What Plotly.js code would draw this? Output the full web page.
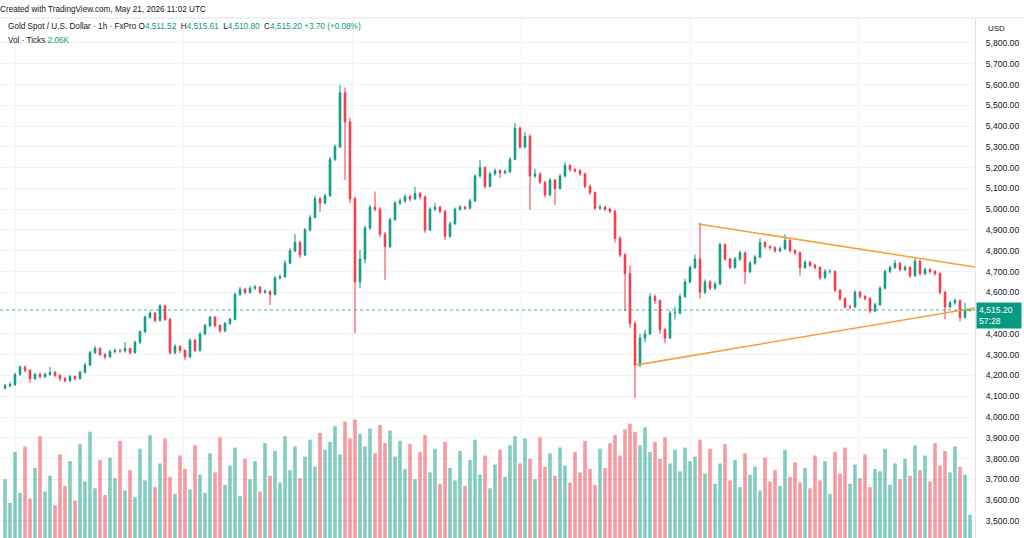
<!DOCTYPE html>
<html>
<head>
<meta charset="utf-8">
<script src="https://cdn.plot.ly/plotly-3.0.1.min.js"></script>
<style>
  html, body { margin: 0; padding: 0; background: #ffffff; }
  #chart { width: 1024px; height: 538px; }
</style>
</head>
<body>
<div id="chart"></div>
<script>
// ---- Data (Gold Spot / USD, 1h, FxPro) ----
const opens = [
4140,4150,4155,4205,4240,4225,4185,4205,4195,4205,4215,4200,4185,4175,4195,4185,4215,4250,4310,4330,
4300,4290,4315,4320,4318,4330,4310,4360,4410,4480,4500,4465,4535,4470,4310,4340,4320,4290,4370,4320,
4400,4440,4480,4440,4415,4450,4470,4590,4615,4600,4620,4625,4600,4605,4590,4670,4675,4740,4800,4840,
4780,4900,4960,5050,5030,5065,5240,5300,5560,5420,5050,4650,4760,4910,5010,5000,4880,4820,4950,5030,
5040,5060,5050,5075,5060,4900,5000,5010,4990,4870,4930,5000,5010,5005,5040,5160,5200,5110,5170,5185,
5175,5180,5240,5390,5300,5350,5160,5170,5130,5070,5140,5100,5160,5210,5190,5185,5170,5110,5080,5005,
5010,5000,4990,4860,4780,4690,4450,4250,4380,4400,4580,4560,4420,4380,4500,4500,4580,4650,4720,4760,
4600,4650,4620,4640,4830,4760,4720,4760,4790,4700,4740,4770,4840,4820,4815,4800,4810,4850,4800,4790,
4720,4745,4730,4720,4670,4700,4700,4610,4570,4530,4530,4600,4580,4570,4510,4540,4620,4700,4720,4740,
4710,4720,4680,4750,4690,4710,4700,4690,4600,4530,4550,4560,4480,4511.52
];
const highs = [
4160,4168,4212,4250,4248,4230,4212,4215,4214,4241,4222,4206,4192,4203,4200,4224,4262,4318,4342,4336,
4308,4324,4330,4328,4361,4335,4368,4418,4488,4510,4506,4542,4540,4478,4350,4346,4326,4378,4376,4408,
4450,4486,4485,4446,4458,4478,4598,4626,4622,4630,4636,4630,4614,4610,4678,4686,4756,4812,4880,4848,
4910,4972,5065,5058,5075,5252,5312,5598,5585,5440,5062,4805,4920,5020,5085,5010,4890,4960,5040,5052,
5070,5068,5107,5082,5066,5010,5030,5016,4996,4940,5008,5020,5016,5050,5168,5237,5206,5180,5196,5192,
5190,5250,5415,5398,5372,5360,5195,5178,5136,5150,5146,5170,5227,5216,5198,5192,5176,5118,5086,5022,
5018,5008,4996,4870,4790,4730,4460,4400,4420,4595,4590,4566,4430,4512,4530,4592,4665,4730,4782,4935,
4662,4660,4652,4840,4836,4766,4770,4800,4796,4750,4780,4860,4846,4828,4822,4820,4880,4856,4808,4796,
4755,4752,4738,4726,4712,4712,4706,4616,4576,4540,4610,4608,4588,4576,4550,4630,4710,4730,4756,4746,
4730,4726,4770,4756,4720,4716,4708,4696,4606,4560,4572,4566,4550,4515.61
];
const lows = [
4132,4142,4150,4198,4215,4165,4178,4186,4188,4198,4192,4172,4166,4168,4176,4180,4210,4245,4302,4292,
4278,4284,4306,4308,4310,4300,4305,4352,4405,4472,4455,4460,4462,4300,4302,4308,4275,4285,4312,4315,
4394,4432,4432,4405,4408,4442,4465,4582,4590,4594,4610,4592,4594,4539,4585,4662,4670,4735,4792,4765,
4775,4894,4955,4987,5022,5060,5232,5295,5140,5030,4404,4620,4740,4900,4990,4866,4660,4812,4942,5020,
5030,5038,5044,5048,4886,4895,4992,4980,4852,4862,4925,4992,4996,5000,5035,5152,5100,5105,5162,5150,
5168,5175,5235,5290,5292,4996,5150,5120,5055,5062,5020,5094,5152,5180,5176,5160,5100,5070,4995,4996,
4990,4980,4840,4770,4510,4430,4092,4240,4360,4395,4545,4400,4355,4375,4470,4494,4574,4644,4712,4570,
4592,4610,4612,4634,4750,4710,4714,4752,4640,4692,4732,4764,4810,4806,4790,4792,4804,4790,4780,4680,
4712,4722,4710,4660,4664,4690,4600,4560,4520,4516,4524,4570,4560,4500,4504,4534,4614,4692,4712,4700,
4702,4670,4674,4680,4682,4690,4680,4590,4470,4522,4540,4460,4474,4510.80
];
const closes = [
4150,4155,4205,4240,4225,4185,4205,4195,4205,4215,4200,4185,4175,4195,4185,4215,4250,4310,4330,4300,
4290,4315,4320,4318,4330,4310,4360,4410,4480,4500,4465,4535,4470,4310,4340,4320,4290,4370,4320,4400,
4440,4480,4440,4415,4450,4470,4590,4615,4600,4620,4625,4600,4605,4590,4670,4675,4740,4800,4840,4780,
4900,4960,5050,5030,5065,5240,5300,5560,5420,5050,4650,4760,4910,5010,5000,4880,4820,4950,5030,5040,
5060,5050,5075,5060,4900,5000,5010,4990,4870,4930,5000,5010,5005,5040,5160,5200,5110,5170,5185,5175,
5180,5240,5390,5300,5350,5160,5170,5130,5070,5140,5100,5160,5210,5190,5185,5170,5110,5080,5005,5010,
5000,4990,4860,4780,4690,4450,4250,4380,4400,4580,4560,4420,4380,4500,4500,4580,4650,4720,4760,4600,
4650,4620,4640,4830,4760,4720,4760,4790,4700,4740,4770,4840,4820,4815,4800,4810,4850,4800,4790,4720,
4745,4730,4720,4670,4700,4700,4610,4570,4530,4530,4600,4580,4570,4510,4540,4620,4700,4720,4740,4710,
4720,4680,4750,4690,4710,4700,4690,4600,4530,4550,4560,4480,4511.52,4515.20
];
// Volume (ticks, thousands)
const volumes = [
5.2,3.1,7.6,4.0,8.1,3.5,6.2,9.0,4.1,5.5,2.9,7.4,4.6,6.8,3.3,8.3,5.0,9.4,4.4,6.9,
3.8,7.1,5.3,8.6,4.2,6.0,3.6,7.9,5.1,9.1,4.5,6.6,8.8,5.4,3.9,7.3,6.1,4.3,8.2,5.6,
4.0,7.5,5.8,8.9,4.7,6.4,8.0,3.7,7.0,5.2,6.8,4.1,8.4,5.5,7.7,4.9,9.0,6.0,8.1,5.3,
7.2,8.7,6.3,9.3,7.8,8.5,9.9,7.4,10.3,8.8,10.5,9.2,8.1,9.7,7.5,10.0,8.4,9.5,7.2,8.6,
6.1,8.3,5.2,7.6,9.1,5.8,7.9,4.8,8.5,6.2,5.1,7.7,4.6,6.9,8.7,5.6,7.3,4.4,6.5,7.8,
5.4,8.2,9.0,6.6,8.8,7.0,5.2,8.9,6.3,7.5,5.5,8.0,6.4,4.9,7.6,5.8,8.6,6.1,4.7,7.9,
6.2,8.4,9.1,7.3,9.6,10.1,9.4,8.2,9.8,7.6,8.5,7.0,8.9,6.6,7.8,5.9,8.0,6.8,7.2,8.7,
5.7,7.9,4.8,6.6,8.3,5.1,6.9,4.5,7.5,5.6,6.3,4.2,7.1,5.0,6.0,4.6,7.8,5.4,6.7,4.9,
6.2,4.4,7.3,5.1,6.8,3.9,7.6,5.7,8.0,4.8,6.5,5.3,7.4,4.5,6.1,5.9,7.9,4.7,6.6,5.2,
7.0,5.5,8.2,6.0,7.3,5.0,8.4,6.4,7.7,5.8,8.1,6.3,5.6,2.06
];
// Price-scale labels shown on the right axis (4,500 is hidden behind the last-price tag)
const priceTicks = [5800,5700,5600,5500,5400,5300,5200,5100,5000,4900,4800,4700,4600,
                    4400,4300,4200,4100,4000,3900,3800,3700,3600,3500];
// Triangle trend lines (bar index, price)
const upperLineX = [138.6, 194];
const upperLineY = [4929, 4722];
const lowerLineX = [126.4, 194];
const lowerLineY = [4251, 4525];
const lastPrice = 4515.20;
const countdown = '57:28';
const headerText = 'Created with TradingView.com, May 21, 2026 11:02 UTC';
const symbolText = 'Gold Spot / U.S. Dollar \u00b7 1h \u00b7 FxPro';
const ohlcText = { O: '4,511.52', H: '4,515.61', L: '4,510.80', C: '4,515.20', chg: '+3.70 (+0.08%)' };
const volText = { label: 'Vol \u00b7 Ticks', value: '2.06K' };

// ---- Styling ----
const UP = '#089981', DOWN = '#F23645';
const idx = closes.map((_, i) => i);
const volColors = closes.map((c, i) => c >= opens[i] ? 'rgba(8,153,129,0.5)' : 'rgba(242,54,69,0.5)');
const FONT = 'Liberation Sans, Arial, sans-serif';
const TXT = '#131722';

const traces = [
  {
    type: 'bar', x: idx, y: volumes, yaxis: 'y2',
    marker: { color: volColors, line: { width: 0 } },
    width: 0.72, hoverinfo: 'skip'
  },
  {
    type: 'candlestick', x: idx, open: opens, high: highs, low: lows, close: closes,
    increasing: { line: { color: UP, width: 1 }, fillcolor: UP },
    decreasing: { line: { color: DOWN, width: 1 }, fillcolor: DOWN },
    whiskerwidth: 0, hoverinfo: 'skip'
  },
  {
    type: 'scatter', mode: 'lines', x: upperLineX, y: upperLineY,
    line: { color: '#F2A33A', width: 1.6 }, hoverinfo: 'skip'
  },
  {
    type: 'scatter', mode: 'lines', x: lowerLineX, y: lowerLineY,
    line: { color: '#F2A33A', width: 1.6 }, hoverinfo: 'skip'
  }
];

const teal = (s) => '<span style="color:' + UP + '">' + s + '</span>';
const sp = '\u00a0\u00a0';
const legendLine1 = symbolText + '\u00a0' + 'O' + teal(ohlcText.O) + sp + 'H' + teal(ohlcText.H) + sp +
  'L' + teal(ohlcText.L) + sp + 'C' + teal(ohlcText.C) + '\u00a0' + teal(ohlcText.chg);
const legendLine2 = volText.label + '\u00a0' + teal(volText.value);

const layout = {
  width: 1024, height: 538,
  margin: { l: 0, r: 49, t: 18, b: 0, pad: 0 },
  paper_bgcolor: '#ffffff', plot_bgcolor: '#ffffff',
  showlegend: false,
  boxgap: 0.55,
  xaxis: {
    range: [-1, 194], rangeslider: { visible: false },
    showticklabels: false, ticks: '', zeroline: false,
    showgrid: true, gridcolor: '#f0f2f6', gridwidth: 1,
    tick0: 2, dtick: 33.75, fixedrange: true
  },
  yaxis: {
    range: [3418, 5920], side: 'right',
    tickmode: 'array', tickvals: priceTicks, tickformat: ',.2f',
    showgrid: true, gridcolor: '#f0f2f6', gridwidth: 1,
    zeroline: false, showline: true, linecolor: '#e0e3eb', linewidth: 1,
    ticks: 'outside', ticklen: 8, tickcolor: 'rgba(0,0,0,0)',
    tickfont: { family: FONT, size: 8.6, color: TXT }, fixedrange: true
  },
  yaxis2: {
    overlaying: 'y', range: [0, 46], visible: false, fixedrange: true
  },
  shapes: [
    { type: 'line', xref: 'paper', yref: 'y', x0: 0, x1: 1, y0: lastPrice, y1: lastPrice,
      line: { color: 'rgba(8,153,129,0.75)', width: 1, dash: 'dot' } },
    { type: 'line', xref: 'paper', yref: 'paper', x0: 0, x1: 1.06, y0: 1, y1: 1,
      line: { color: '#e0e3eb', width: 1 } }
  ],
  annotations: [
    { xref: 'paper', yref: 'paper', x: -0.002, y: 1.0173, xanchor: 'left', yanchor: 'middle',
      text: headerText, showarrow: false, font: { family: FONT, size: 8.2, color: TXT } },
    { xref: 'paper', yref: 'paper', x: 0.006, y: 0.983, xanchor: 'left', yanchor: 'middle',
      text: legendLine1, showarrow: false, font: { family: FONT, size: 8.2, color: TXT } },
    { xref: 'paper', yref: 'paper', x: 0.006, y: 0.956, xanchor: 'left', yanchor: 'middle',
      text: legendLine2, showarrow: false, font: { family: FONT, size: 8.2, color: TXT } },
    { xref: 'paper', yref: 'paper', x: 1.011, y: 0.979, xanchor: 'left', yanchor: 'middle',
      text: 'USD', showarrow: false, font: { family: FONT, size: 8, color: TXT } },
    { xref: 'paper', yref: 'y', x: 1.001, y: lastPrice, xanchor: 'left', yanchor: 'top',
      yshift: 8, text: lastPrice.toLocaleString('en-US', { minimumFractionDigits: 2 }) + '<br>' + countdown,
      align: 'left', showarrow: false, bgcolor: UP, borderpad: 2, width: 40,
      font: { family: FONT, size: 8.6, color: '#ffffff' } }
  ]
};

Plotly.newPlot('chart', traces, layout, { staticPlot: true, displayModeBar: false });
</script>
</body>
</html>
